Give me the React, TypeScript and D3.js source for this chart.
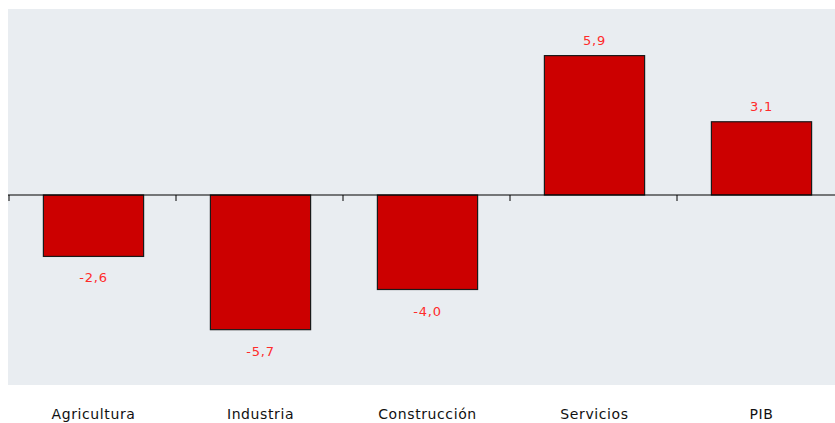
import React, { useRef, useEffect } from "react";
import * as d3 from "d3";

const categories = ["Agricultura", "Industria", "Construcción", "Servicios", "PIB"];
const values = [-2.6, -5.7, -4.0, 5.9, 3.1];
const valueLabels = ["-2,6", "-5,7", "-4,0", "5,9", "3,1"];

const width = 835;
const height = 423;

const App = () => {
    const svgRef = useRef<SVGSVGElement>(null);

    useEffect(() => {
        if (!svgRef.current) return;
        const svg = d3.select(svgRef.current);
        svg.selectAll("*").remove();

        const plot = { left: 8, right: 835, top: 9, bottom: 385 };

        // fondo gris del área de trazado
        svg.append("rect")
            .attr("x", plot.left)
            .attr("y", plot.top)
            .attr("width", plot.right - plot.left)
            .attr("height", plot.bottom - plot.top)
            .attr("fill", "#e9edf1");

        const xScale = d3.scaleBand()
            .domain(categories)
            .range([10, 845])
            .paddingInner(0.4)
            .paddingOuter(0.2);

        const yScale = d3.scaleLinear()
            .domain([-8, 8])
            .range([384, 6]);

        const data = categories.map((c, i) => ({ cat: c, value: values[i], label: valueLabels[i] }));

        svg.selectAll(".bar")
            .data(data)
            .enter()
            .append("rect")
            .attr("class", "bar")
            .attr("x", (d) => xScale(d.cat)!)
            .attr("width", xScale.bandwidth())
            .attr("y", (d) => yScale(Math.max(0, d.value)))
            .attr("height", (d) => Math.abs(yScale(d.value) - yScale(0)))
            .attr("fill", "#cc0000")
            .attr("stroke", "#1a1a1a")
            .attr("stroke-width", 1.2);

        // eje cero con marcas
        const y0 = yScale(0);
        svg.append("line")
            .attr("x1", plot.left)
            .attr("x2", plot.right)
            .attr("y1", y0)
            .attr("y2", y0)
            .attr("stroke", "#000")
            .attr("stroke-width", 1.2);

        const tickXs = d3.range(categories.length + 1).map((i) => 9 + i * (835 / categories.length));
        svg.selectAll(".tick")
            .data(tickXs)
            .enter()
            .append("line")
            .attr("x1", (d) => d)
            .attr("x2", (d) => d)
            .attr("y1", y0)
            .attr("y2", y0 + 6)
            .attr("stroke", "#000")
            .attr("stroke-width", 1);

        // etiquetas de valores
        svg.selectAll(".val")
            .data(data)
            .enter()
            .append("text")
            .attr("x", (d) => xScale(d.cat)! + xScale.bandwidth() / 2)
            .attr("y", (d) => (d.value >= 0 ? yScale(d.value) - 11 : yScale(d.value) + 26))
            .attr("text-anchor", "middle")
            .style("font-family", "DejaVu Sans, sans-serif")
            .style("font-size", "13px")
            .style("letter-spacing", "0.8px")
            .style("fill", "#ff2b2b")
            .text((d) => d.label);

        // etiquetas de categorías
        svg.selectAll(".cat")
            .data(data)
            .enter()
            .append("text")
            .attr("x", (d) => xScale(d.cat)! + xScale.bandwidth() / 2)
            .attr("y", 419)
            .attr("text-anchor", "middle")
            .style("font-family", "DejaVu Sans, sans-serif")
            .style("font-size", "14px")
            .style("letter-spacing", "0.6px")
            .style("fill", "#111")
            .text((d) => d.cat);
    }, []);

    return (
        <svg
            ref={svgRef}
            width={width}
            height={height}
            style={{ position: "absolute", left: 0, top: 0, background: "#fff" }}
        />
    );
};

export default App;
